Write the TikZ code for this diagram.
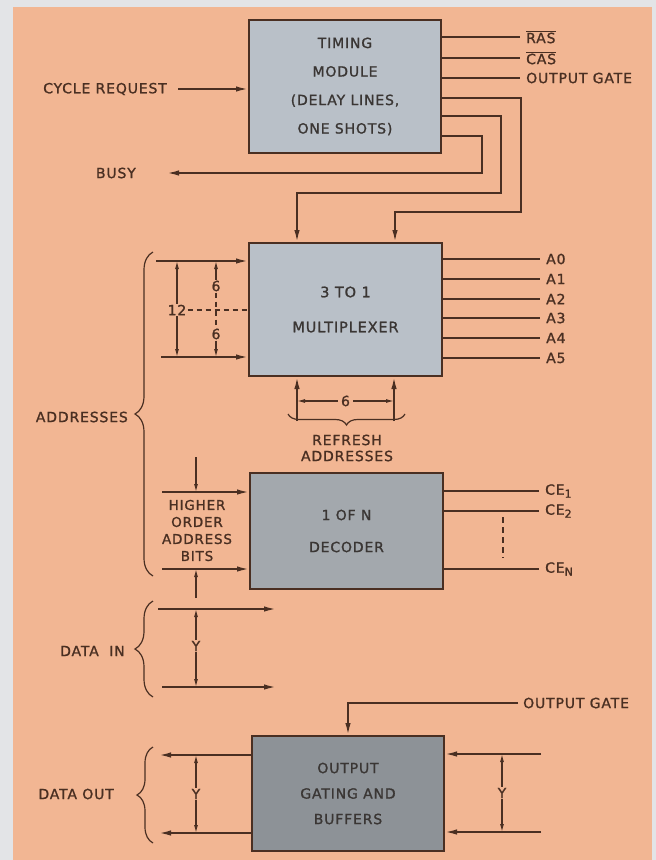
\documentclass[tikz,border=0pt]{standalone}
\usepackage{fontspec}
\setmainfont{DejaVu Sans}[LetterSpace=6,FakeBold=1.2]
\usetikzlibrary{arrows.meta,decorations.pathreplacing,calc}
\definecolor{bgout}{HTML}{E3E4E7}
\definecolor{bgor}{HTML}{F2B693}
\definecolor{lc}{HTML}{4A2F22}
\definecolor{tc}{HTML}{4A2F22}
\definecolor{boxA}{HTML}{B9C0C8}
\definecolor{boxB}{HTML}{A3A8AD}
\definecolor{boxC}{HTML}{8D9297}
\definecolor{bt}{HTML}{3A3634}
\newcommand{\lblfont}{\fontsize{14}{16}\selectfont}
\newcommand{\subtx}[1]{\raisebox{-0.4ex}{\fontsize{11}{11}\selectfont #1}}
\begin{document}
\begin{tikzpicture}[x=1pt,y=-1pt,
  ln/.style={draw=lc,line width=1.8pt},
  arr/.style={ln,-{Latex[length=12pt,width=5.5pt]}},
  dimln/.style={draw=lc,line width=1.2pt},
  darr/.style={dimln,-{Latex[length=8pt,width=4pt]}},
  lbl/.style={text=tc,inner sep=3pt,font=\lblfont},
  rlbl/.style={lbl,anchor=west,inner xsep=6pt},
  blk/.style={draw=lc,line width=2pt,inner sep=0pt,text=bt,align=center},
  brc/.style={dimln,decorate,decoration={brace,amplitude=#1}},
]
\useasboundingbox (0,0) rectangle (656,860);
\fill[bgout] (0,0) rectangle (656,860);
\fill[bgor] (13,7) rectangle (652,860);

% ---- blocks
\node[blk,fill=boxA,minimum width=192pt,minimum height=133pt,font=\fontsize{14}{28.5}\selectfont] (tm) at (345,86.5) {TIMING\\MODULE\\(DELAY LINES,\\ONE SHOTS)};
\node[blk,fill=boxA,minimum width=193pt,minimum height=133pt,font=\fontsize{14.5}{35}\selectfont] (mux) at (345.5,309.5) {3 TO 1\\MULTIPLEXER};
\node[blk,fill=boxB,minimum width=193pt,minimum height=116pt,font=\fontsize{14}{32}\selectfont] (dec) at (346.5,531) {1 OF N\\DECODER};
\node[blk,fill=boxC,minimum width=192pt,minimum height=115pt,font=\fontsize{14}{25.5}\selectfont] (out) at (348,793.5) {OUTPUT\\GATING AND\\BUFFERS};

\node[lbl,anchor=east] (cyc) at (170,89) {CYCLE REQUEST};
\draw[arr] ($(cyc.east)+(8,0)$) -- (cyc.east -| tm.west);

\node[rlbl] (ras) at (520,37) {$\overline{\mbox{RAS}}$};
\node[rlbl] (cas) at (520,58) {$\overline{\mbox{CAS}}$};
\node[rlbl] (og1) at (520,78) {OUTPUT GATE};
\draw[ln] (ras.west -| tm.east) -- (ras.west);
\draw[ln] (cas.west -| tm.east) -- (cas.west);
\draw[ln] (og1.west -| tm.east) -- (og1.west);

\coordinate (busyend) at (167,173);
\node[lbl,anchor=east] (busy) at (139,173) {BUSY};
\draw[arr] ($(tm.north east)+(0,79)$) -| (521,212) -| ($(mux.north)+(49.5,0)$);
\draw[arr] ($(tm.north east)+(0,97)$) -| (501,193) -| ($(mux.north)+(-48.5,0)$);
\draw[arr] ($(tm.north east)+(0,117)$) -| (482,173) -- (busyend);

% ---- multiplexer
\foreach \n/\yy in {0/259,1/279,2/299,3/318,4/338,5/358} {
  \node[rlbl] (a\n) at (540,\yy) {A\n};
  \draw[ln] (a\n.west -| mux.east) -- (a\n.west);
}
\coordinate (mi1) at (156,261);
\coordinate (mi2) at (161,357);
\draw[arr] (mi1) -- (mi1 -| mux.west);
\draw[arr] (mi2) -- (mi2 -| mux.west);

\node[lbl,inner sep=1pt] (d12) at (177,310) {12};
\draw[darr] (d12.north) -- (d12.north |- mi1);
\draw[darr] (d12.south) -- (d12.south |- mi2);
\draw[dimln,dash pattern=on 5pt off 4pt] (d12.east) -- (d12.east -| mux.west);
\node[lbl,inner sep=1pt] (d6a) at (216,286) {6};
\node[lbl,inner sep=1pt] (d6b) at (216,334) {6};
\draw[darr] (d6a.north) -- (d6a.north |- mi1);
\draw[darr] (d6b.south) -- (d6b.south |- mi2);
\draw[dimln,dash pattern=on 5pt off 4pt] (d6a.south) -- (d6b.north);

\coordinate (r1) at (297,421);
\coordinate (r2) at (394,421);
\draw[arr] (r1) -- (r1 |- mux.south);
\draw[arr] (r2) -- (r2 |- mux.south);
\node[lbl] (d6c) at (345.5,401) {6};
\draw[darr] (d6c.west) -- (d6c.west -| r1);
\draw[darr] (d6c.east) -- (d6c.east -| r2);
\draw[brc=11pt] (405,414) -- (288,414);
\node[lbl,align=center,font=\fontsize{14}{16}\selectfont] (refl) at (347,448) {REFRESH\\ADDRESSES};

\draw[brc=18pt] (153,576) -- (153,252);
\node[lbl,anchor=east] (addr) at (131,417) {ADDRESSES};

% ---- decoder
\coordinate (di1) at (162,492);
\coordinate (di2) at (162,569);
\draw[arr] (di1) -- (di1 -| dec.west);
\draw[arr] (di2) -- (di2 -| dec.west);
\coordinate (hd) at (196,457);
\coordinate (hu) at (196,598);
\draw[darr] (hd) -- (hd |- di1);
\draw[darr] (hu) -- (hu |- di2);
\node[lbl,align=center,font=\fontsize{13.5}{17}\selectfont] (hob) at (197,530.5) {HIGHER\\ORDER\\ADDRESS\\BITS};

\node[rlbl] (ce1) at (539,491) {CE\subtx{1}};
\node[rlbl] (ce2) at (539,511) {CE\subtx{2}};
\node[rlbl] (cen) at (539,569) {CE\subtx{N}};
\draw[ln] (ce1.west -| dec.east) -- (ce1.west);
\draw[ln] (ce2.west -| dec.east) -- (ce2.west);
\draw[ln] (cen.west -| dec.east) -- (cen.west);
\coordinate (cd1) at (503,517);
\coordinate (cd2) at (503,558);
\draw[dimln,dash pattern=on 6pt off 4pt] (cd1) -- (cd2);

% ---- data in
\draw[brc=18pt] (153,697) -- (153,601);
\node[lbl,anchor=east] (din) at (128,651) {DATA\ \ IN};
\coordinate (dl1) at (158,609);
\coordinate (dl2) at (162,687);
\coordinate (dr1) at (276,609);
\coordinate (dr2) at (276,687);
\draw[arr] (dl1) -- (dr1);
\draw[arr] (dl2) -- (dr2);
\node[lbl,inner sep=1pt] (y1) at (196,646) {Y};
\draw[darr] (y1.north) -- (y1.north |- dl1);
\draw[darr] (y1.south) -- (y1.south |- dl2);

% ---- output gating
\node[rlbl,inner xsep=5pt] (og2) at (518,703) {OUTPUT GATE};
\draw[arr] (og2.west) -| (out.north);
\coordinate (do1) at (159,755);
\coordinate (do2) at (159,833);
\draw[arr] (do1 -| out.west) -- (do1);
\draw[arr] (do2 -| out.west) -- (do2);
\node[lbl,inner sep=1pt] (y2) at (196,794) {Y};
\draw[darr] (y2.north) -- (y2.north |- do1);
\draw[darr] (y2.south) -- (y2.south |- do2);
\draw[brc=16pt] (153,843) -- (153,747);
\node[lbl,anchor=east] (dout) at (117,794) {DATA OUT};

\coordinate (ri1) at (541,754);
\coordinate (ri2) at (541,832);
\draw[arr] (ri1) -- (ri1 -| out.east);
\draw[arr] (ri2) -- (ri2 -| out.east);
\node[lbl,inner sep=1pt] (y3) at (502,793) {Y};
\draw[darr] (y3.north) -- (y3.north |- ri1);
\draw[darr] (y3.south) -- (y3.south |- ri2);
\end{tikzpicture}
\end{document}
